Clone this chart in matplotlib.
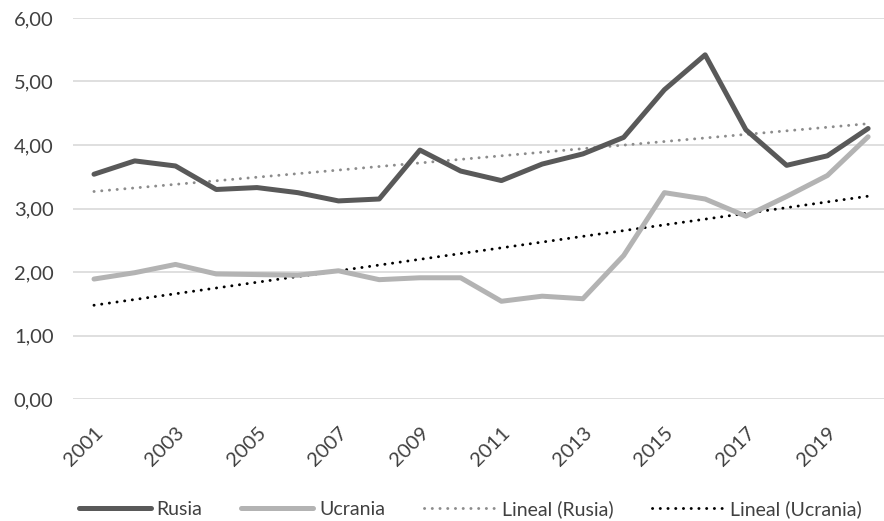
import numpy as np
import matplotlib.pyplot as plt
from matplotlib.transforms import ScaledTranslation

# datos
anios = list(range(2001, 2021))
rusia = [3.54, 3.75, 3.67, 3.30, 3.33, 3.25, 3.12, 3.15, 3.92, 3.59,
         3.44, 3.70, 3.86, 4.12, 4.87, 5.42, 4.24, 3.68, 3.83, 4.26]
ucrania = [1.89, 1.99, 2.12, 1.97, 1.96, 1.95, 2.02, 1.88, 1.91, 1.91,
           1.54, 1.62, 1.58, 2.26, 3.25, 3.15, 2.88, 3.19, 3.52, 4.13]
etiquetas_x = [str(a) for a in anios[::2]]
ticks_y = [0, 1, 2, 3, 4, 5, 6]

plt.rcParams['font.family'] = ['Lato', 'DejaVu Sans']
color_texto = '#404040'

fig = plt.figure(figsize=(8.84, 5.21), dpi=100)
ax = fig.add_axes([0.0826, 0.234, 0.9174, 0.7315])

x = np.array(anios)

# líneas de tendencia (ajuste lineal)
p_r = np.polyfit(x, rusia, 1)
p_u = np.polyfit(x, ucrania, 1)

ax.plot(x, rusia, color='#595959', lw=3.6, solid_joinstyle='round',
        solid_capstyle='round', label='Rusia', zorder=3)
ax.plot(x, ucrania, color='#b3b3b3', lw=3.6, solid_joinstyle='round',
        solid_capstyle='round', label='Ucrania', zorder=3)
ax.plot(x, np.polyval(p_r, x), color='#8c8c8c', lw=2.1, ls=(0, (0.05, 2.6)),
        dash_capstyle='round', label='Lineal (Rusia)', zorder=2)
ax.plot(x, np.polyval(p_u, x), color='black', lw=2.1, ls=(0, (0.05, 2.6)),
        dash_capstyle='round', label='Lineal (Ucrania)', zorder=2)

ax.set_xlim(2000.485, 2020.39)
ax.set_ylim(0, 6)
ax.set_yticks(ticks_y)
ax.set_yticklabels([f'{v:.2f}'.replace('.', ',') for v in ticks_y])
ax.set_xticks(anios[::2])
ax.set_xticklabels(etiquetas_x, rotation=45, ha='right', va='top',
                   rotation_mode='anchor')
desplazar = ScaledTranslation(0.04, 0, fig.dpi_scale_trans)
for t in ax.get_xticklabels():
    t.set_transform(t.get_transform() + desplazar)

ax.grid(axis='y', color='#d9d9d9', lw=1.2)
ax.set_axisbelow(True)
for s in ax.spines.values():
    s.set_visible(False)
ax.tick_params(axis='both', length=0, labelsize=14.5, labelcolor=color_texto)
ax.tick_params(axis='y', pad=14)
ax.tick_params(axis='x', pad=18)

fig.legend(loc='lower center', bbox_to_anchor=(0.532, -0.028), ncol=4,
           frameon=False, fontsize=14, handlelength=3.7, columnspacing=2.0,
           handletextpad=0.3, labelcolor=color_texto)

fig.savefig('out.png', dpi=100)
